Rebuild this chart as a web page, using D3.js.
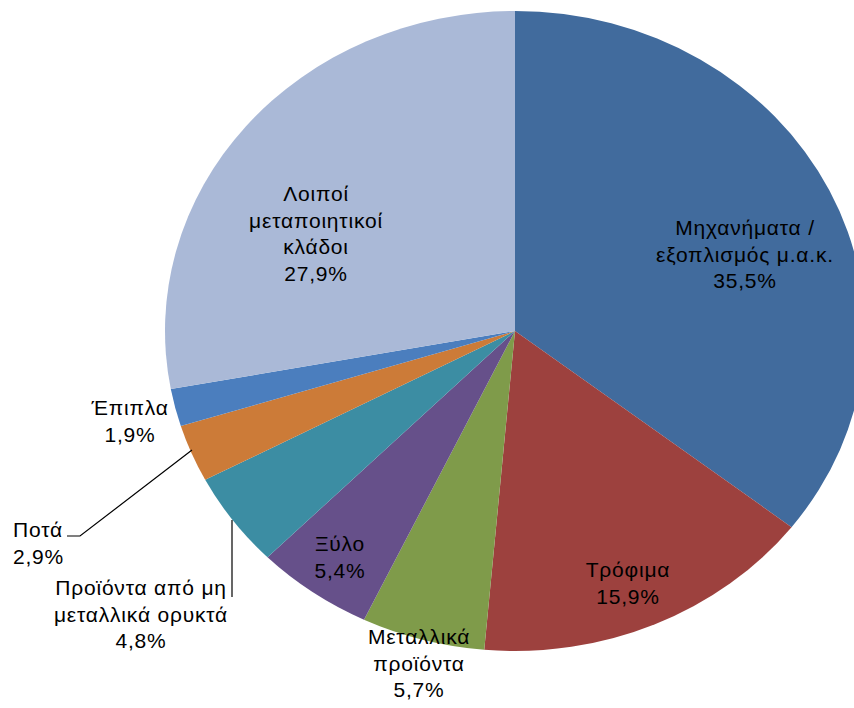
<!DOCTYPE html>
<html><head><meta charset="utf-8">
<script src="https://cdn.jsdelivr.net/npm/d3@7"></script>
<style>body{margin:0;background:#fff}svg{display:block}text{font-family:"Liberation Sans",Arial,sans-serif;font-size:21px;letter-spacing:0.8px;fill:#000}</style>
</head><body>
<svg id="c" width="854" height="708"></svg>
<script>
const categories = ["Μηχανήματα / εξοπλισμός μ.α.κ.","Τρόφιμα","Μεταλλικά προϊόντα","Ξύλο","Προϊόντα από μη μεταλλικά ορυκτά","Ποτά","Έπιπλα","Λοιποί μεταποιητικοί κλάδοι"];
const values = [35.5,15.9,5.7,5.4,4.8,2.9,1.9,27.9];
const labelLines = [["Μηχανήματα /","εξοπλισμός μ.α.κ."],["Τρόφιμα"],["Μεταλλικά","προϊόντα"],["Ξύλο"],["Προϊόντα από μη","μεταλλικά ορυκτά"],["Ποτά"],["Έπιπλα"],["Λοιποί","μεταποιητικοί","κλάδοι"]];
const colors = ["#416B9D","#9D413E","#7F9B4A","#66508A","#3C8DA3","#CC7B38","#4B7EBE","#AAB9D7"];

// layout (label anchors: x, first baseline, anchor)
const layout = [
  {x:745,y:235,a:"middle"},
  {x:628,y:577,a:"middle"},
  {x:419,y:644,a:"middle"},
  {x:340,y:551,a:"middle"},
  {x:141,y:595,a:"middle"},
  {x:13,y:537,a:"start"},
  {x:130,y:415,a:"middle"},
  {x:316,y:201,a:"middle"}
];
const step = 26.5;
const cx=515, cy=331, rx=350, ry=320;

const svg = d3.select("#c");
const pie = d3.pie().sort(null).value(d=>d)(values);
const arc = d3.arc().innerRadius(0).outerRadius(ry);
const g = svg.append("g").attr("transform",`translate(${cx},${cy}) scale(${rx/ry},1)`);
g.selectAll("path").data(pie).join("path")
  .attr("d",arc).attr("fill",(d,i)=>colors[i]);

// leader lines
const lines = [
  [[67,536],[80,536],[192,450]],
  [[232,520],[232,597]]
];
svg.selectAll("path.lead").data(lines).join("path").attr("class","lead")
  .attr("d",d3.line()).attr("fill","none").attr("stroke","#000").attr("stroke-width",1.2);

const fmt = v => d3.format(".1f")(v).replace(".",",")+"%";
values.forEach((v,i)=>{
  const L = layout[i];
  const t = svg.append("text").attr("text-anchor",L.a);
  const ls = labelLines[i].concat([fmt(v)]);
  ls.forEach((s,k)=>t.append("tspan").attr("x",L.x).attr("y",L.y+k*step).text(s));
});
</script>
</body></html>
